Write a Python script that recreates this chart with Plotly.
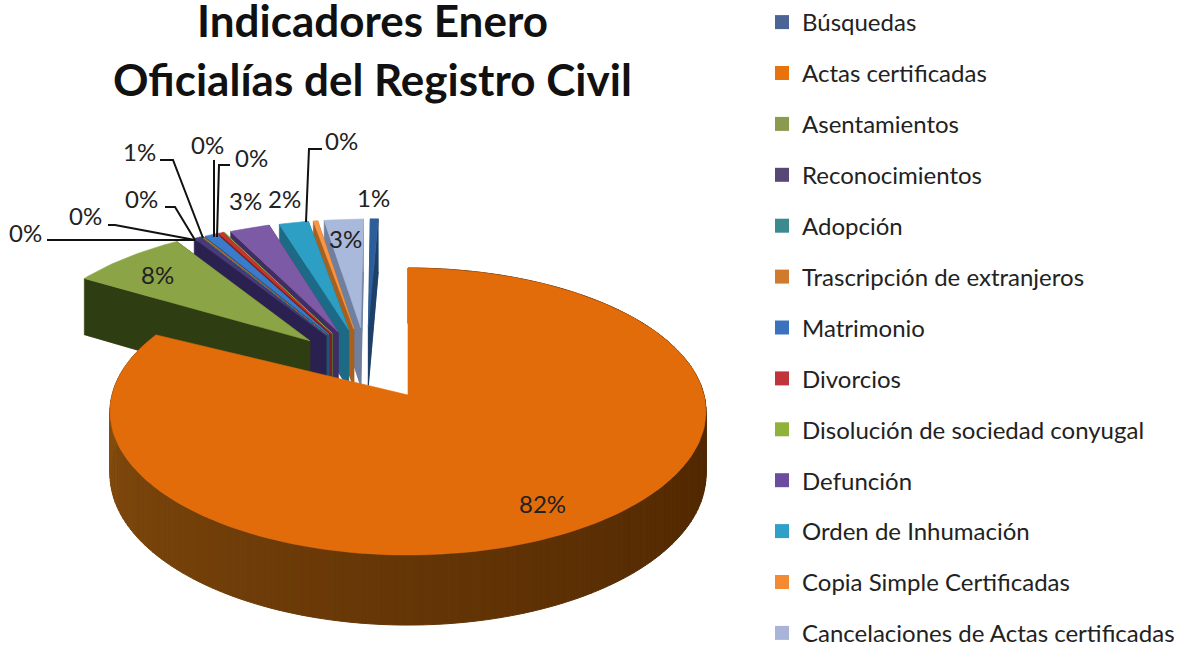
import math
import plotly.graph_objects as go

categories = ["Búsquedas", "Actas certificadas", "Asentamientos", "Reconocimientos", "Adopción",
              "Trascripción de extranjeros", "Matrimonio", "Divorcios", "Disolución de sociedad conyugal",
              "Defunción", "Orden de Inhumación", "Copia Simple Certificadas", "Cancelaciones de Actas certificadas"]
values = [0.55, 82.0, 7.6, 0.4, 0.03, 0.12, 0.8, 0.3, 0.06, 2.7, 2.0, 0.3, 2.7]
top_colors = ["#2B5E9B", "#E36C0A", "#8BA446", "#4A3A78", "#2E8291", "#C86F27", "#3A7CCB", "#C8342F",
              "#9BBB59", "#7D5AA6", "#2E9FC4", "#F79646", "#A9B9DC"]
wall_colors = ["#1D3F68", "#6B3500", "#2F3D12", "#2B2150", "#1D5560", "#7A4216", "#24508A", "#7F1F1C",
               "#5F7A2E", "#3F2D63", "#1C6A86", "#A8601F", "#6F7FA0"]
legend_colors = ["#4A6496", "#E8720C", "#8A9A4E", "#564876", "#3B8A8F", "#D07A2E", "#3A72BE", "#C0353B",
                 "#8FB23A", "#6B4C9E", "#2FA0C8", "#F58A34", "#AAB4D8"]
title_lines = ["Indicadores Enero", "Oficialías del Registro Civil"]
FONT = "Lato"

CX, CY, RX, RY, K, DEPTH = 408, 395, 296, 141.6, 0.115, 62
total = sum(values)
pct = [v / total * 100 for v in values]
orange_sweep = pct[1] * 3.6


def project(u, v):
    w = 1 + K * v
    return CX + RX * u / w, CY - RY * v / w, DEPTH / w


def spread(a):
    return 1.5 + 0.96 * a


def outline(start, end, apex_u=0.0, apex_v=0.0, r=1.0):
    pts = [(apex_u, apex_v)]
    n = max(2, int(abs(end - start) / 1.5))
    for i in range(n + 1):
        a = math.radians(start + (end - start) * i / n)
        pts.append((apex_u + r * math.sin(a), apex_v + r * math.cos(a)))
    return pts


def poly(fig, pts, color, line=0.6):
    xs = [p[0] for p in pts] + [pts[0][0]]
    ys = [p[1] for p in pts] + [pts[0][1]]
    fig.add_trace(go.Scatter(x=xs, y=ys, mode="lines", fill="toself", fillcolor=color,
                             line=dict(color=color, width=line), hoverinfo="skip", showlegend=False))


def mix(c1, c2, t):
    return "rgb(%d,%d,%d)" % tuple(c1[i] + (c2[i] - c1[i]) * t for i in range(3))


fig = go.Figure()

# legend entries
for name, col in zip(categories, legend_colors):
    fig.add_trace(go.Scatter(x=[None], y=[None], mode="markers", name=name, legendgroup=name,
                             marker=dict(symbol="square", size=14, color=col), hoverinfo="skip"))

# exploded slices, far side first: walk counter-clockwise from the top
order = [0, 12, 11, 10, 9, 8, 7, 6, 5, 4, 3, 2]
a_end = 0.0
angles = {}
for i in order:
    a_start = a_end - pct[i] * 3.6
    angles[i] = (a_start, a_end)
    a_end = a_start

for i in order:
    s, e = spread(angles[i][0]), spread(angles[i][1])
    m = (angles[i][0] + angles[i][1]) / 2
    d = math.radians(-15 + 0.52 * m)
    au, av = 0.53 * math.sin(d), 0.53 * math.cos(d)
    pts = [project(u, v) for u, v in outline(s, e, au, av, 0.94 - 0.0012 * m)]
    # bottom face, then the two radial walls, then the top face
    poly(fig, [(p[0], p[1] + p[2]) for p in pts], wall_colors[i])
    for q in (pts[1], pts[-1]):
        a = pts[0]
        poly(fig, [(a[0], a[1]), (q[0], q[1]), (q[0], q[1] + q[2]), (a[0], a[1] + a[2])], wall_colors[i])
    poly(fig, [(p[0], p[1]) for p in pts], top_colors[i])

# main slice: rim bands, then top
rim_p = [project(u, v) for u, v in outline(0, orange_sweep)[1:]]
dark, light = (74, 35, 0), (132, 76, 14)
for j in range(len(rim_p) - 1):
    p, q = rim_p[j], rim_p[j + 1]
    t = min(1.0, max(0.0, (j / (len(rim_p) - 1) - 0.15) / 0.75))
    poly(fig, [(p[0], p[1]), (q[0], q[1]), (q[0], q[1] + q[2]), (p[0], p[1] + p[2])], mix(dark, light, t ** 1.5), 1)
top = [project(u, v) for u, v in outline(0, orange_sweep)]
poly(fig, [(p[0], p[1]) for p in top], top_colors[1])

# leader lines
leaders = [[(47, 240), (195, 240)], [(108, 225), (115, 225), (195, 240)], [(165, 207), (175, 207), (195, 240)],
           [(160, 160), (173, 160), (203, 238)], [(214, 160), (214, 237)], [(230, 165), (219, 165), (217, 237)],
           [(322, 149), (309, 149), (306, 222)]]
for l in leaders:
    fig.add_trace(go.Scatter(x=[p[0] for p in l], y=[p[1] for p in l], mode="lines",
                             line=dict(color="#111111", width=2), hoverinfo="skip", showlegend=False))

# percentage labels: series index and where each is written
label_spots = {3: (25, 232), 4: (85, 215), 5: (141, 198), 6: (139, 151), 7: (207, 144), 8: (251, 157),
               9: (245, 200), 10: (284, 198), 11: (341, 140), 0: (373, 197), 12: (345, 238), 2: (157, 274),
               1: (542, 503)}
annotations = []
for i, (x, y) in label_spots.items():
    annotations.append(dict(x=x, y=y, xref="x", yref="y", text=f"{round(pct[i])}%", showarrow=False,
                            font=dict(family=FONT, size=24, color="#222222")))
for line, y in zip(title_lines, [20, 79]):
    annotations.append(dict(x=372, y=y, xref="x", yref="y", text=f"<b>{line}</b>", showarrow=False,
                            font=dict(family=FONT, size=44, color="#111111")))

fig.update_layout(
    width=1188, height=647, margin=dict(l=0, r=0, t=0, b=0), paper_bgcolor="white", plot_bgcolor="white",
    xaxis=dict(range=[0, 1188], visible=False, fixedrange=True),
    yaxis=dict(range=[647, 0], visible=False, fixedrange=True),
    annotations=annotations,
    legend=dict(x=762 / 1188, y=1 - 13 / 647, xanchor="left", yanchor="top", tracegroupgap=16.7, maxheight=800,
                font=dict(family=FONT, size=24, color="#222222"), bgcolor="rgba(0,0,0,0)"),
)
fig.write_html("out.html", config=dict(displayModeBar=False),
               post_script="document.body.style.margin='0';document.body.style.overflow='hidden';")
